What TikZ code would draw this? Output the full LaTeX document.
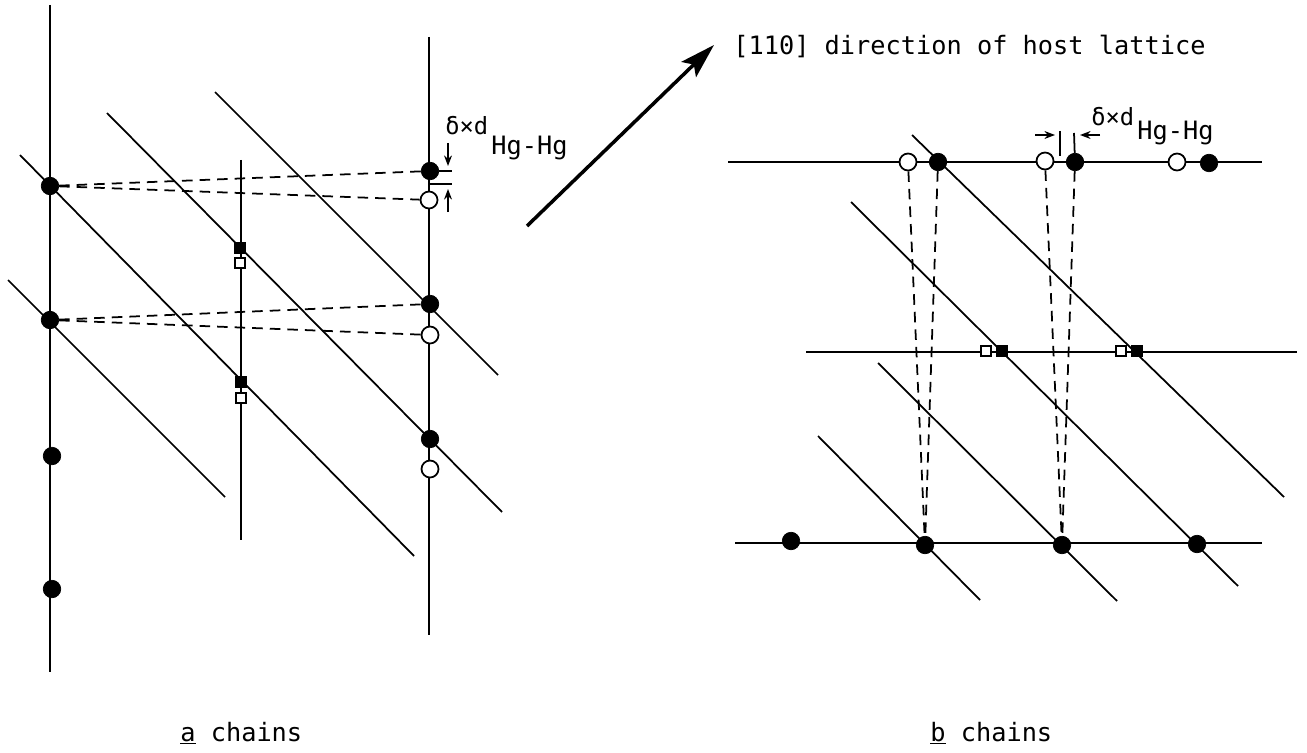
\documentclass[tikz,border=0pt]{standalone}
\usepackage{fontspec}
\setmonofont{DejaVu Sans Mono}
\usetikzlibrary{arrows.meta,positioning,calc}
\begin{document}
\begin{tikzpicture}[x=0.02cm,y=-0.02cm,>={Stealth[length=6pt,width=4.5pt]},
  full/.style={circle,fill=black,draw=black,inner sep=0pt,minimum size=0.35cm},
  hollow/.style={circle,fill=white,draw=black,line width=1pt,inner sep=0pt,minimum size=0.34cm},
  fullsq/.style={rectangle,fill=black,draw=black,inner sep=0pt,minimum size=0.22cm},
  hollowsq/.style={rectangle,fill=white,draw=black,line width=1pt,inner sep=0pt,minimum size=0.2cm},
  lbl/.style={inner sep=0pt,anchor=base west,font=\fontsize{14.4pt}{16pt}\selectfont\ttfamily},
  sym/.style={inner sep=0pt,anchor=base west,font=\fontsize{13.5pt}{14pt}\selectfont\ttfamily},
  chain/.style={line width=1pt},
  link/.style={line width=1pt,dash pattern=on 6pt off 4pt},
  tick/.style={line width=1pt}]
\useasboundingbox (0,0) rectangle (1307,753);

% ===== free line ends =====
\foreach \n/\x/\y in {va1/50/5,va2/50/672,vb1/241/160,vb2/241/540,vc1/429/37,vc2/429/635,
  da1/20/155,da2/414/556,db1/8/280,db2/225/497,dc1/107/113,dc2/502/512,dd1/215/92,dd2/498/375,
  ha1/728/162,ha2/1262/162,hb1/806/352,hb2/1297/352,hc1/735/543,hc2/1262/543,
  ea1/912/135,ea2/1284/497,eb1/851/202,eb2/1238/586,ec1/878/363,ec2/1117/601,ed1/818/436,ed2/980/600}
  \coordinate (\n) at (\x,\y);

% ===== a chains =====
\draw[chain] (va1)--(va2); \draw[chain] (vb1)--(vb2); \draw[chain] (vc1)--(vc2);
\draw[chain] (da1)--(da2); \draw[chain] (db1)--(db2); \draw[chain] (dc1)--(dc2); \draw[chain] (dd1)--(dd2);
\foreach \n/\x/\y in {A1/50/186,A2/50/320,A3/52/456,A4/52/589,C1/430/171,C2/430/304,C3/430/439}
  \node[full] (\n) at (\x,\y){};
\foreach \n/\x/\y in {C4/429/200,C5/430/335,C6/430/469}
  \node[hollow] (\n) at (\x,\y){};
\node[fullsq] (B1) at (240,248){};
\node[fullsq] (B2) at (241,382){};
\node[hollowsq] (B3) at (240,263){};
\node[hollowsq] (B4) at (241,398){};
\draw[link] (A1)--(C1); \draw[link] (A1)--(C4);
\draw[link] (A2)--(C2); \draw[link] (A2)--(C5);

% offset marks, left
\coordinate (ma) at (452,171); \coordinate (mb) at (430,184); \coordinate (mc) at (452,184);
\coordinate (md) at (448,143); \coordinate (me) at (448,166); \coordinate (mf) at (448,212); \coordinate (mg) at (448,189);
\draw[tick] (C1)--(ma); \draw[tick] (mb)--(mc);
\draw[tick,->] (md)--(me); \draw[tick,->] (mf)--(mg);
\node[sym] (tla) at (445,135) {δ×d};
\node[lbl] (tlb) at (491,155) {Hg-Hg};

% ===== direction arrow =====
\coordinate (pa) at (527,226); \coordinate (pb) at (714,45);
\draw[line width=2pt,-{Stealth[length=20pt,width=12pt,inset=4pt]}] (pa)--(pb);
\node[lbl] (dir) at (733,55) {[110] direction of host lattice};

% ===== b chains =====
\draw[chain] (ha1)--(ha2); \draw[chain] (hb1)--(hb2); \draw[chain] (hc1)--(hc2);
\draw[chain] (ea1)--(ea2); \draw[chain] (eb1)--(eb2); \draw[chain] (ec1)--(ec2); \draw[chain] (ed1)--(ed2);
\foreach \n/\x/\y in {E1/908/162,E2/1045/161,E3/1177/162}
  \node[hollow] (\n) at (\x,\y){};
\foreach \n/\x/\y in {F1/938/162,F2/1075/162,F3/1209/163,G1/791/541,G2/925/545,G3/1062/545,G4/1197/544}
  \node[full] (\n) at (\x,\y){};
\node[hollowsq] (H1) at (986,351){};
\node[fullsq] (H2) at (1002,351){};
\node[hollowsq] (H3) at (1121,351){};
\node[fullsq] (H4) at (1137,351){};
\draw[link] (E1)--(G2); \draw[link] (F1)--(G2);
\draw[link] (E2)--(G3); \draw[link] (F2)--(G3);

% offset marks, right
\coordinate (na) at (1060,131); \coordinate (nb) at (1060,156); \coordinate (nc) at (1074,133);
\coordinate (nd) at (1035,135); \coordinate (ne) at (1055,135); \coordinate (nf) at (1100,135); \coordinate (ng) at (1080,135);
\draw[tick] (na)--(nb); \draw[tick] (nc)--(F2);
\draw[tick,->] (nd)--(ne); \draw[tick,->] (nf)--(ng);
\node[sym] (tra) at (1091,126) {δ×d};
\node[lbl] (trb) at (1137,140) {Hg-Hg};

% ===== captions =====
\node[lbl] (capa) at (180,741) {\underline{a} chains};
\node[lbl] (capb) at (930,741) {\underline{b} chains};
\end{tikzpicture}
\end{document}
